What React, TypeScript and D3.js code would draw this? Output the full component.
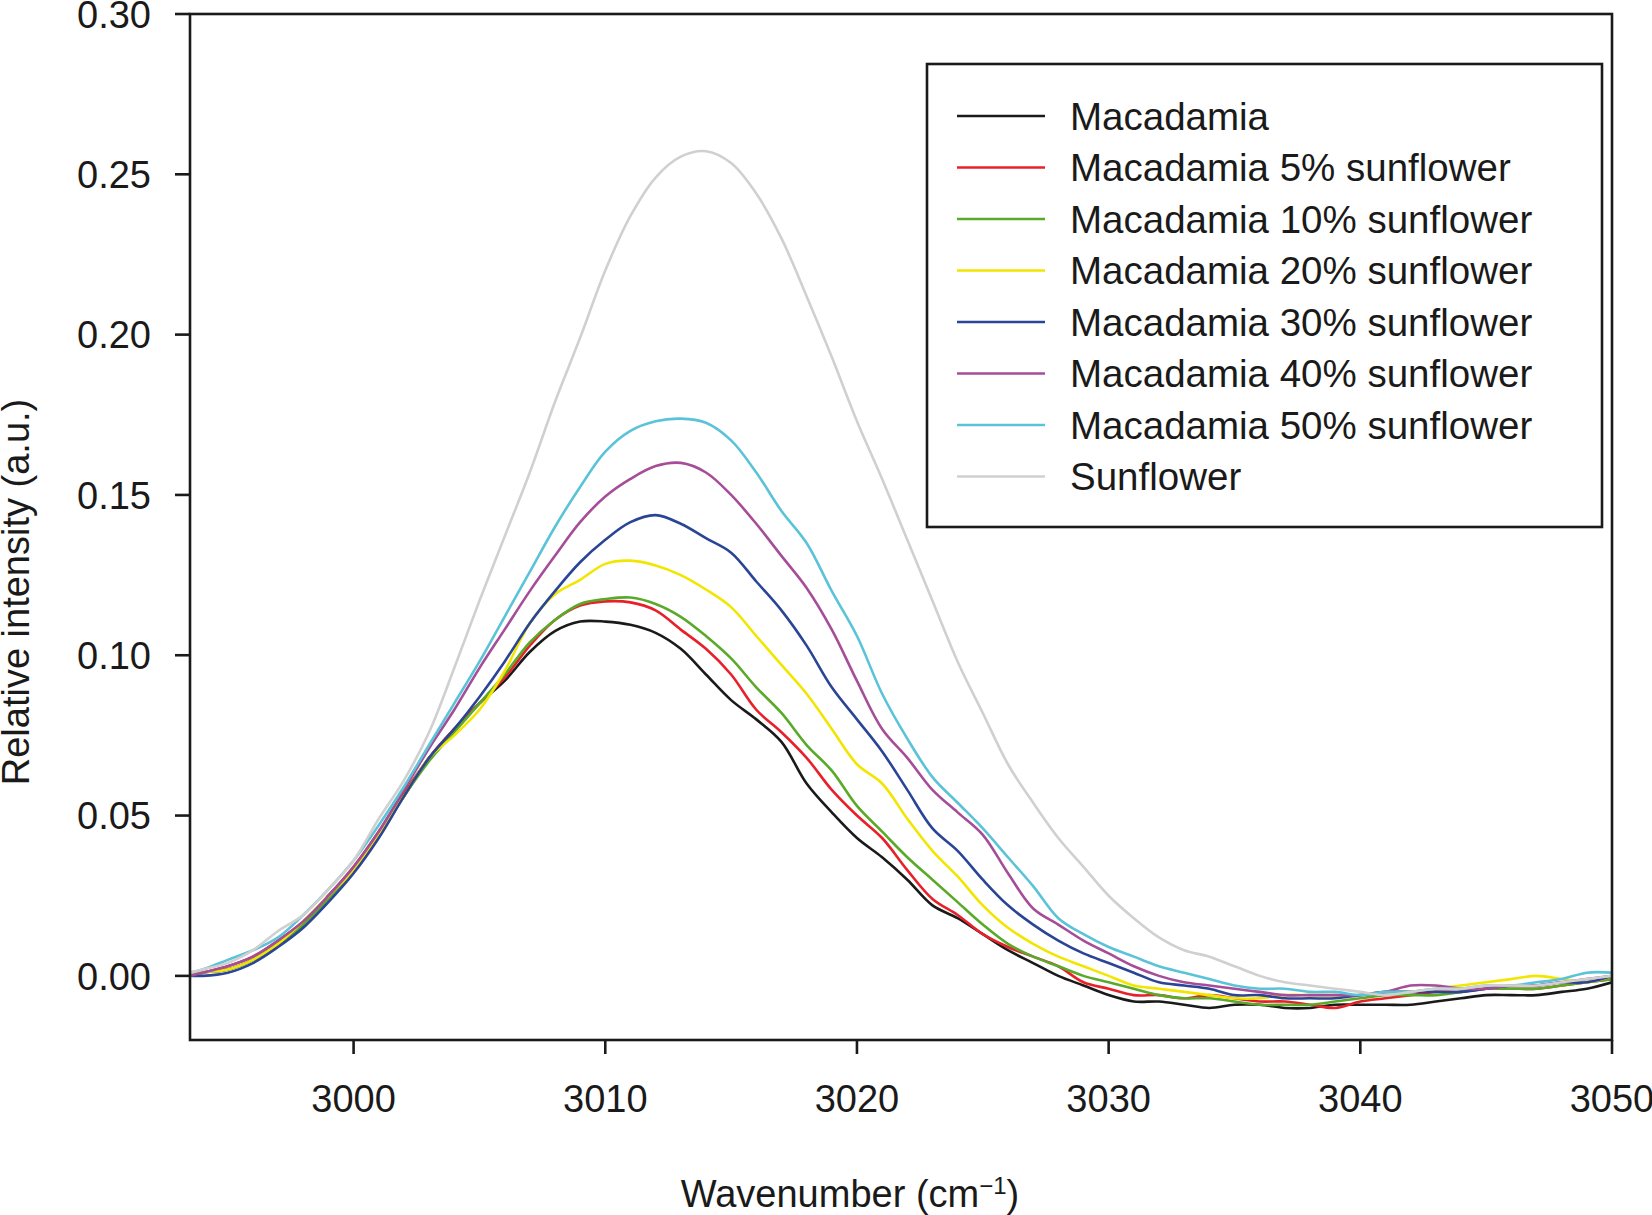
import React from "react";
import * as d3 from "d3";

const wavenumbers = [
  2993.5, 2994, 2995, 2996, 2997, 2998, 2999, 3000, 3001, 3002, 3003, 3004, 3005, 3006, 3007, 3008, 3009,
  3010, 3011, 3012, 3013, 3014, 3015, 3016, 3017, 3018, 3019, 3020, 3021, 3022, 3023, 3024, 3025, 3026,
  3027, 3028, 3029, 3030, 3031, 3032, 3033, 3034, 3035, 3036, 3037, 3038, 3039, 3040, 3041, 3042, 3043,
  3044, 3045, 3046, 3047, 3048, 3049, 3050,
];

const macadamia = [
  0.0, 0.001, 0.002, 0.005, 0.01, 0.016, 0.025, 0.033, 0.044, 0.056, 0.068, 0.077, 0.085, 0.092, 0.101,
  0.1075, 0.1105, 0.1105, 0.1095, 0.107, 0.102, 0.094, 0.086, 0.08, 0.073, 0.06, 0.051, 0.043, 0.037, 0.03,
  0.022, 0.018, 0.013, 0.008, 0.004, 0.0, -0.003, -0.006, -0.008, -0.008, -0.009, -0.01, -0.009, -0.009,
  -0.01, -0.01, -0.009, -0.009, -0.009, -0.009, -0.008, -0.007, -0.006, -0.006, -0.006, -0.005, -0.004, -0.002,
];
const mac5 = [
  0.0, 0.001, 0.003, 0.006, 0.011, 0.017, 0.025, 0.034, 0.045, 0.057, 0.068, 0.077, 0.085, 0.093, 0.103,
  0.111, 0.1155, 0.1168, 0.1165, 0.114, 0.108, 0.102, 0.094, 0.083, 0.076, 0.068, 0.058, 0.05, 0.043, 0.033,
  0.024, 0.019, 0.013, 0.009, 0.006, 0.003, -0.002, -0.004, -0.006, -0.006, -0.007, -0.006, -0.007, -0.008,
  -0.008, -0.009, -0.01, -0.008, -0.007, -0.006, -0.005, -0.005, -0.004, -0.004, -0.004, -0.003, -0.002, -0.001,
];
const mac10 = [
  0.0, 0.001, 0.002, 0.005, 0.01, 0.016, 0.024, 0.033, 0.044, 0.056, 0.067, 0.076, 0.085, 0.094, 0.104,
  0.111, 0.116, 0.1175, 0.118, 0.116, 0.112, 0.106, 0.099, 0.09, 0.082, 0.072, 0.064, 0.053, 0.045, 0.037,
  0.03, 0.023, 0.016, 0.01, 0.006, 0.003, 0.0, -0.002, -0.004, -0.006, -0.007, -0.007, -0.008, -0.009,
  -0.009, -0.009, -0.008, -0.007, -0.006, -0.006, -0.006, -0.005, -0.004, -0.004, -0.004, -0.003, -0.002, -0.001,
];
const mac20 = [
  0.0, 0.001, 0.002, 0.005, 0.01, 0.017, 0.025, 0.033, 0.044, 0.056, 0.068, 0.075, 0.083, 0.095, 0.11,
  0.119, 0.1235, 0.1285, 0.1295, 0.128, 0.125, 0.1205, 0.115, 0.106, 0.097, 0.088, 0.077, 0.066, 0.06, 0.049,
  0.039, 0.031, 0.022, 0.015, 0.01, 0.006, 0.003, 0.0, -0.003, -0.004, -0.005, -0.006, -0.007, -0.007,
  -0.006, -0.006, -0.006, -0.006, -0.005, -0.005, -0.004, -0.003, -0.002, -0.001, 0.0, -0.001, -0.002, 0.0,
];
const mac30 = [
  0.0, 0.0, 0.001, 0.004, 0.009, 0.015, 0.023, 0.032, 0.043, 0.056, 0.068, 0.077, 0.087, 0.098, 0.11,
  0.12, 0.129, 0.136, 0.1415, 0.1437, 0.141, 0.1365, 0.132, 0.123, 0.114, 0.103, 0.09, 0.08, 0.07, 0.058,
  0.046, 0.039, 0.03, 0.022, 0.016, 0.011, 0.007, 0.004, 0.001, -0.002, -0.003, -0.004, -0.006, -0.006,
  -0.007, -0.007, -0.007, -0.006, -0.005, -0.005, -0.005, -0.005, -0.004, -0.003, -0.003, -0.002, -0.002, 0.0,
];
const mac40 = [
  0.0, 0.001, 0.003, 0.006, 0.011, 0.017, 0.025, 0.034, 0.045, 0.058, 0.071, 0.083, 0.096, 0.108, 0.12,
  0.131, 0.1415, 0.1495, 0.155, 0.159, 0.16, 0.157, 0.15, 0.141, 0.131, 0.121, 0.108, 0.092, 0.077, 0.068,
  0.058, 0.051, 0.044, 0.032, 0.021, 0.016, 0.011, 0.007, 0.003, 0.0, -0.002, -0.003, -0.004, -0.005,
  -0.006, -0.006, -0.006, -0.006, -0.005, -0.003, -0.003, -0.004, -0.004, -0.003, -0.003, -0.002, -0.001, 0.0,
];
const mac50 = [
  0.001, 0.002, 0.005, 0.008, 0.012, 0.019, 0.027, 0.036, 0.047, 0.059, 0.072, 0.085, 0.098, 0.112, 0.126,
  0.14, 0.1525, 0.1635, 0.17, 0.173, 0.1738, 0.1725, 0.167, 0.157, 0.145, 0.135, 0.12, 0.106, 0.088, 0.074,
  0.062, 0.054, 0.046, 0.037, 0.028, 0.018, 0.013, 0.009, 0.006, 0.003, 0.001, -0.001, -0.003, -0.004,
  -0.004, -0.005, -0.005, -0.006, -0.005, -0.005, -0.004, -0.004, -0.003, -0.003, -0.002, -0.001, 0.001, 0.001,
];
const sunflower = [
  0.001, 0.002, 0.004, 0.008, 0.014, 0.019, 0.027, 0.036, 0.049, 0.061, 0.076, 0.096, 0.117, 0.137, 0.157,
  0.179, 0.199, 0.22, 0.237, 0.249, 0.2555, 0.2572, 0.2535, 0.244, 0.23, 0.212, 0.193, 0.173, 0.155, 0.136,
  0.117, 0.098, 0.082, 0.066, 0.054, 0.043, 0.034, 0.025, 0.018, 0.012, 0.008, 0.006, 0.003, 0.0, -0.002,
  -0.003, -0.004, -0.005, -0.006, -0.005, -0.004, -0.004, -0.003, -0.003, -0.003, -0.002, -0.001, 0.0,
];

const seriesNames = [
  "Macadamia",
  "Macadamia 5% sunflower",
  "Macadamia 10% sunflower",
  "Macadamia 20% sunflower",
  "Macadamia 30% sunflower",
  "Macadamia 40% sunflower",
  "Macadamia 50% sunflower",
  "Sunflower",
];
const seriesValues = [macadamia, mac5, mac10, mac20, mac30, mac40, mac50, sunflower];
const seriesColors = ["#1a1a1a", "#e8202a", "#5aaa2a", "#f2e600", "#2a4596", "#a64d98", "#5bc3d8", "#d0d0d0"];

const xTicks = [3000, 3010, 3020, 3030, 3040, 3050];
const yTicks = [0.0, 0.05, 0.1, 0.15, 0.2, 0.25, 0.3];

const W = 1652;
const H = 1215;
const FONT = "'Liberation Sans', Arial, Helvetica, sans-serif";

export default function App() {
  const left = 190;
  const right = 1612;
  const top = 14;
  const bottom = 1040;

  const x = d3.scaleLinear().domain([2993.5, 3050]).range([left, right]);
  const y = d3.scaleLinear().domain([-0.02, 0.3]).range([bottom, top]);

  const line = d3
    .line<number>()
    .x((_, i) => x(wavenumbers[i]))
    .y((d) => y(d))
    .curve(d3.curveCatmullRom.alpha(0.5));

  const legX = 927;
  const legY = 64;
  const legW = 675;
  const legH = 463;
  const rowY0 = 116;
  const rowStep = 51.5;

  return (
    <svg
      width={W}
      height={H}
      viewBox={`0 0 ${W} ${H}`}
      style={{ position: "absolute", left: 0, top: 0, background: "#fff" }}
      fontFamily={FONT}
    >
      <rect x={0} y={0} width={W} height={H} fill="#fff" />
      <defs>
        <clipPath id="plotclip">
          <rect x={left} y={top} width={right - left} height={bottom - top} />
        </clipPath>
      </defs>

      <g clipPath="url(#plotclip)">
        {seriesValues.map((vals, k) => (
          <path
            key={seriesNames[k]}
            d={line(vals) || ""}
            fill="none"
            stroke={seriesColors[k]}
            strokeWidth={2.6}
            strokeLinejoin="round"
            strokeLinecap="round"
          />
        ))}
      </g>

      {/* frame */}
      <rect x={left} y={top} width={right - left} height={bottom - top} fill="none" stroke="#1a1a1a" strokeWidth={2.6} />

      {/* y ticks */}
      {yTicks.map((t) => (
        <g key={"y" + t}>
          <line x1={left - 15} x2={left} y1={y(t)} y2={y(t)} stroke="#1a1a1a" strokeWidth={2.6} />
          <text x={151} y={y(t)} dy="0.36em" textAnchor="end" fontSize={38} fill="#1a1a1a">
            {t.toFixed(2)}
          </text>
        </g>
      ))}

      {/* x ticks */}
      {xTicks.map((t) => (
        <g key={"x" + t}>
          <line x1={x(t)} x2={x(t)} y1={bottom} y2={bottom + 14} stroke="#1a1a1a" strokeWidth={2.6} />
          <text x={x(t)} y={1112} textAnchor="middle" fontSize={38} fill="#1a1a1a">
            {t}
          </text>
        </g>
      ))}

      {/* axis titles */}
      <text x={850} y={1207} textAnchor="middle" fontSize={38} fill="#1a1a1a">
        Wavenumber (cm
        <tspan fontSize={24} baselineShift="super">−1</tspan>
        )
      </text>
      <text
        transform={`translate(29, 592) rotate(-90)`}
        textAnchor="middle"
        fontSize={38}
        fill="#1a1a1a"
      >
        Relative intensity (a.u.)
      </text>

      {/* legend */}
      <rect x={legX} y={legY} width={legW} height={legH} fill="#fff" stroke="#1a1a1a" strokeWidth={2.6} />
      {seriesNames.map((name, k) => (
        <g key={"leg" + k}>
          <line
            x1={957}
            x2={1045}
            y1={rowY0 + k * rowStep}
            y2={rowY0 + k * rowStep}
            stroke={seriesColors[k]}
            strokeWidth={2.6}
          />
          <text x={1070} y={rowY0 + k * rowStep} dy="0.36em" fontSize={38.5} fill="#1a1a1a">
            {name}
          </text>
        </g>
      ))}
    </svg>
  );
}
